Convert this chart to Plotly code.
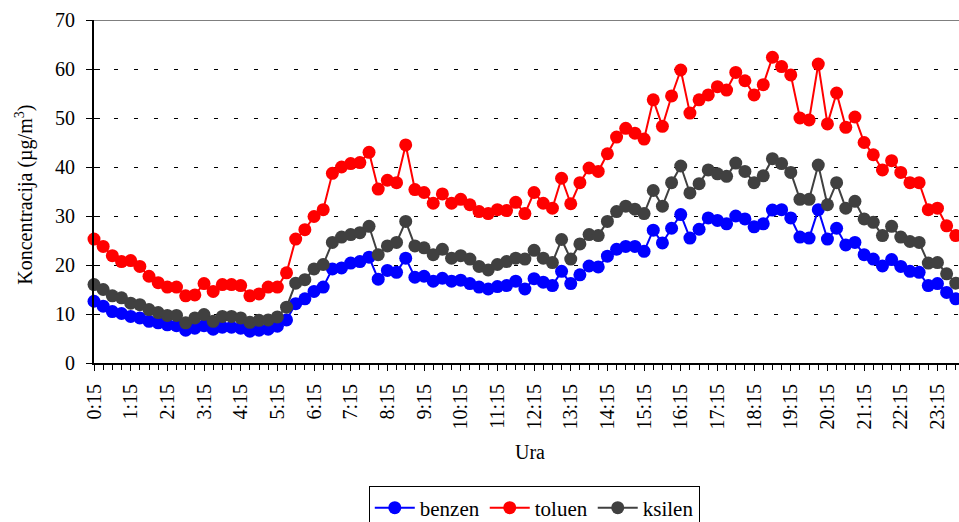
import plotly.graph_objects as go

# time categories every 15 minutes, 0:15 .. 23:45
times = [f"{(m // 60)}:{(m % 60):02d}" for m in range(15, 24 * 60, 15)]
tick_labels = [f"{h}:15" for h in range(24)]

benzen = [12.6, 11.6, 10.5, 10.1, 9.5, 9.2, 8.5, 8.2, 7.8, 7.6, 6.7, 7.1, 7.6, 6.9, 7.3, 7.3, 7.1, 6.5, 6.7, 6.9,
          7.5, 8.8, 12.1, 13.1, 14.6, 15.5, 19.2, 19.4, 20.4, 20.7, 21.6, 17.1, 18.9, 18.5, 21.4, 17.5, 17.7, 16.7, 17.3, 16.7,
          16.9, 16.2, 15.5, 15.1, 15.6, 15.8, 16.7, 15.1, 17.2, 16.5, 15.8, 18.7, 16.2, 18.0, 19.8, 19.6, 21.8, 23.2, 23.8, 23.8,
          22.8, 27.1, 24.5, 27.5, 30.3, 25.5, 27.3, 29.6, 29.1, 28.4, 30.0, 29.4, 27.8, 28.4, 31.2, 31.3, 29.6, 25.7, 25.5, 31.3,
          25.3, 27.5, 24.1, 24.6, 22.1, 21.2, 19.8, 21.1, 19.7, 18.7, 18.5, 15.8, 16.2, 14.4, 13.1]

toluen = [25.3, 23.8, 21.9, 20.7, 20.9, 19.7, 17.7, 16.4, 15.5, 15.5, 13.7, 13.9, 16.2, 14.6, 16.0, 16.0, 15.8, 13.7, 14.1, 15.5,
          15.5, 18.4, 25.3, 27.2, 29.9, 31.3, 38.7, 40.0, 40.7, 40.9, 43.0, 35.5, 37.3, 36.8, 44.5, 35.4, 34.8, 32.6, 34.5, 32.6,
          33.4, 32.3, 30.9, 30.5, 31.3, 31.1, 32.8, 30.5, 34.8, 32.6, 31.6, 37.7, 32.5, 36.8, 39.8, 39.1, 42.7, 46.1, 47.9, 46.9,
          45.7, 53.7, 48.3, 54.5, 59.8, 51.0, 53.7, 54.7, 56.4, 55.7, 59.3, 57.6, 54.7, 56.8, 62.4, 60.5, 58.8, 50.0, 49.6, 61.0,
          48.8, 55.1, 48.1, 50.2, 45.0, 42.5, 39.4, 41.3, 38.9, 36.8, 36.8, 31.3, 31.6, 28.0, 26.0]

ksilen = [16.0, 15.0, 13.7, 13.3, 12.2, 11.9, 10.9, 10.3, 9.7, 9.7, 8.2, 9.2, 9.9, 8.5, 9.5, 9.5, 9.2, 8.3, 8.7, 8.8,
          9.4, 11.4, 16.3, 17.0, 19.2, 20.1, 24.6, 25.7, 26.2, 26.6, 27.9, 22.1, 23.9, 24.6, 28.9, 23.9, 23.5, 22.1, 23.2, 21.4,
          21.9, 21.2, 19.7, 19.0, 20.1, 20.7, 21.4, 21.2, 23.0, 21.4, 20.5, 25.2, 21.2, 24.3, 26.2, 26.0, 28.9, 30.9, 32.0, 31.4,
          30.5, 35.2, 32.0, 36.8, 40.2, 34.7, 36.6, 39.4, 38.6, 38.1, 40.8, 39.1, 36.8, 38.2, 41.7, 40.7, 38.9, 33.4, 33.4, 40.4,
          32.3, 36.8, 31.6, 33.0, 29.4, 28.7, 26.0, 27.9, 25.7, 24.8, 24.6, 20.4, 20.5, 18.2, 16.3]

series = [("benzen", benzen, "#0000FF"), ("toluen", toluen, "#FF0000"), ("ksilen", ksilen, "#404040")]

FONT = "'Liberation Serif', 'Times New Roman', 'DejaVu Serif', serif"
XRANGE = [0, 94.35]

fig = go.Figure()
for name, vals, col in series:
    fig.add_trace(go.Scatter(
        x=times, y=vals, name=name, mode="lines+markers",
        line=dict(color=col, width=2),
        marker=dict(color=col, size=13),
        cliponaxis=False,
    ))

fig.update_layout(
    width=959, height=522,
    margin=dict(l=94, r=0, t=20, b=159, autoexpand=False),
    paper_bgcolor="white", plot_bgcolor="white",
    font=dict(family=FONT, size=20, color="black"),
    showlegend=True,
    legend=dict(
        orientation="h", x=0.509, xanchor="center", y=-0.36, yanchor="top",
        bordercolor="black", borderwidth=1, bgcolor="white",
        font=dict(family=FONT, size=21), itemwidth=40, tracegroupgap=0,
    ),
    xaxis=dict(
        type="category", categoryorder="array", categoryarray=times,
        range=XRANGE, automargin=False,
        tickmode="array", tickvals=tick_labels, ticktext=tick_labels,
        tickangle=-90, ticks="outside", ticklen=6, tickwidth=1, tickcolor="black",
        showline=True, linecolor="black", linewidth=2,
        showgrid=False, zeroline=False,
        tickfont=dict(family=FONT, size=20), ticklabelstandoff=5,
    ),
    # overlay axis: a tick for every 15-minute category, no labels
    xaxis2=dict(
        type="category", categoryorder="array", categoryarray=times,
        range=XRANGE, overlaying="x", anchor="y", side="bottom", automargin=False,
        tickmode="array", tickvals=times, ticks="outside", ticklen=6, tickwidth=1,
        tickcolor="black", showticklabels=False, showgrid=False, zeroline=False,
        showline=False,
    ),
    yaxis=dict(
        range=[0, 70], tickmode="linear", tick0=0, dtick=10, automargin=False,
        ticks="outside", ticklen=6, tickwidth=1, tickcolor="black",
        showline=True, linecolor="black", linewidth=2,
        showgrid=True, gridcolor="black", gridwidth=1, griddash="4px,16px",
        zeroline=False,
        tickfont=dict(family=FONT, size=20), ticklabelstandoff=7,
    ),
    yaxis2=dict(
        range=[0, 70], tickmode="linear", tick0=0, dtick=10,
        overlaying="y", side="left", anchor="x2", automargin=False,
        ticks="inside", ticklen=6, tickwidth=1, tickcolor="black",
        showticklabels=False, showgrid=False, zeroline=False, showline=False,
    ),
    shapes=[dict(type="line", xref="paper", x0=0, x1=1, yref="y", y0=70, y1=70,
                 line=dict(color="#555555", width=1.5))],
    annotations=[
        dict(text="Koncentracija (µg/m<sup>3</sup>)", xref="paper", yref="paper",
             x=-0.08, y=0.49, xanchor="center", yanchor="middle", textangle=-90,
             showarrow=False, font=dict(family=FONT, size=20)),
        dict(text="Ura", xref="paper", yref="paper", x=0.504, y=-0.259,
             xanchor="center", yanchor="middle", showarrow=False,
             font=dict(family=FONT, size=20)),
    ],
)
# invisible trace so the overlay tick axes are drawn
fig.add_trace(go.Scatter(x=[times[0]], y=[0], xaxis="x2", yaxis="y2", showlegend=False,
                         hoverinfo="skip", mode="markers", marker=dict(opacity=0)))

fig.write_html("out.html", config={"displayModeBar": False},
               post_script="document.body.style.margin='0px';")
